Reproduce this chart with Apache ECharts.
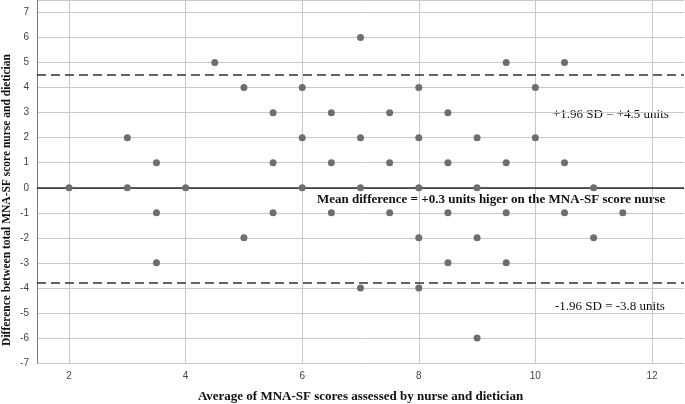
<!DOCTYPE html>
<html>
<head>
<meta charset="utf-8">
<script src="https://cdn.jsdelivr.net/npm/echarts@6/dist/echarts.min.js"></script>
<style>
html,body{margin:0;padding:0;background:#fff;}
#c{width:685px;height:404px;}
</style>
</head>
<body>
<div id="c"></div>
<script>
// Data
var avgScores = [2, 3, 3, 3.5, 3.5, 3.5, 4, 4.5, 5, 5, 5.5, 5.5, 5.5, 6, 6, 6, 6.5, 6.5, 6.5,
  7, 7, 7, 7, 7.5, 7.5, 7.5, 8, 8, 8, 8, 8, 8.5, 8.5, 8.5, 8.5, 9, 9, 9, 9,
  9.5, 9.5, 9.5, 9.5, 10, 10, 10.5, 10.5, 10.5, 11, 11, 11.5];
var differences = [0, 2, 0, 1, -1, -3, 0, 5, 4, -2, 3, 1, -1, 4, 2, 0, 3, 1, -1,
  6, 2, 0, -4, 3, 1, -1, 4, 2, 0, -2, -4, 3, 1, -1, -3, 2, 0, -2, -6,
  5, 1, -1, -3, 4, 2, 5, 1, -1, 0, -2, -1];
var xTickLabels = [2, 4, 6, 8, 10, 12];
var referenceLine = 0;
var upperLimit = 4.5;
var lowerLimit = -3.8;
var upperText = '+1.96 SD = +4.5 units';
var lowerText = '-1.96 SD = -3.8 units';
var meanText = 'Mean difference = +0.3 units higer on the MNA-SF score nurse';
var xTitle = 'Average of MNA-SF scores assessed by nurse and dietician';
var yTitle = 'Difference between total MNA-SF score nurse and dietician';

var points = avgScores.map(function (x, i) { return [x, differences[i]]; });

var chart = echarts.init(document.getElementById('c'), null, {renderer: 'canvas'});
var serif = '"Liberation Serif", "DejaVu Serif", serif';
var sans = '"Liberation Sans", Arial, sans-serif';

chart.setOption({
  animation: false,
  grid: {left: 37, right: 1, top: 0, bottom: 41, containLabel: false, outerBoundsMode: 'none'},
  xAxis: {
    type: 'value',
    min: 1.45, max: 12.55,
    name: xTitle,
    nameLocation: 'middle',
    nameGap: 27,
    nameTextStyle: {fontFamily: serif, fontWeight: 'bold', fontSize: 13, color: '#111'},
    axisLine: {show: true, lineStyle: {color: '#777', width: 1}},
    axisTick: {show: false, customValues: xTickLabels},
    axisLabel: {customValues: xTickLabels, fontFamily: sans, fontSize: 10, color: '#444', margin: 8},
    splitLine: {show: true, lineStyle: {color: '#c8c8c8', width: 1}}
  },
  yAxis: {
    type: 'value',
    min: -7, max: 7.5, interval: 1,
    axisLine: {show: true, lineStyle: {color: '#777', width: 1}},
    axisTick: {show: false},
    axisLabel: {fontFamily: sans, fontSize: 10, color: '#444', margin: 8, showMaxLabel: false,
      formatter: function (v) { return Number.isInteger(v) ? String(v) : ''; }},
    splitLine: {show: true, lineStyle: {color: '#c8c8c8', width: 1}}
  },
  series: [{
    type: 'scatter',
    data: points,
    symbolSize: 7,
    itemStyle: {color: '#6e6e6e', opacity: 1},
    z: 3,
    markLine: {
      silent: true,
      symbol: ['none', 'none'],
      label: {show: false},
      z: 2,
      data: [
        {yAxis: referenceLine, lineStyle: {color: '#333', width: 1.5, type: 'solid'}},
        {yAxis: upperLimit, lineStyle: {color: '#333', width: 1.5, type: [9, 5]}},
        {yAxis: lowerLimit, lineStyle: {color: '#333', width: 1.5, type: [9, 5]}}
      ]
    }
  }],
  graphic: [
    {type: 'text', x: 7, y: 200, rotation: Math.PI / 2,
      style: {text: yTitle, fontFamily: serif, fontWeight: 'bold', fontSize: 11.5, fill: '#111',
        align: 'center', verticalAlign: 'middle'}},
    {type: 'text', left: 553, top: 108, style: {text: upperText, fontFamily: serif, fontSize: 13, fill: '#111'}},
    {type: 'text', left: 555, top: 300, style: {text: lowerText, fontFamily: serif, fontSize: 13, fill: '#111'}},
    {type: 'text', left: 317, top: 193, style: {text: meanText, fontFamily: serif, fontWeight: 'bold', fontSize: 13, fill: '#111'}}
  ]
});
</script>
</body>
</html>
